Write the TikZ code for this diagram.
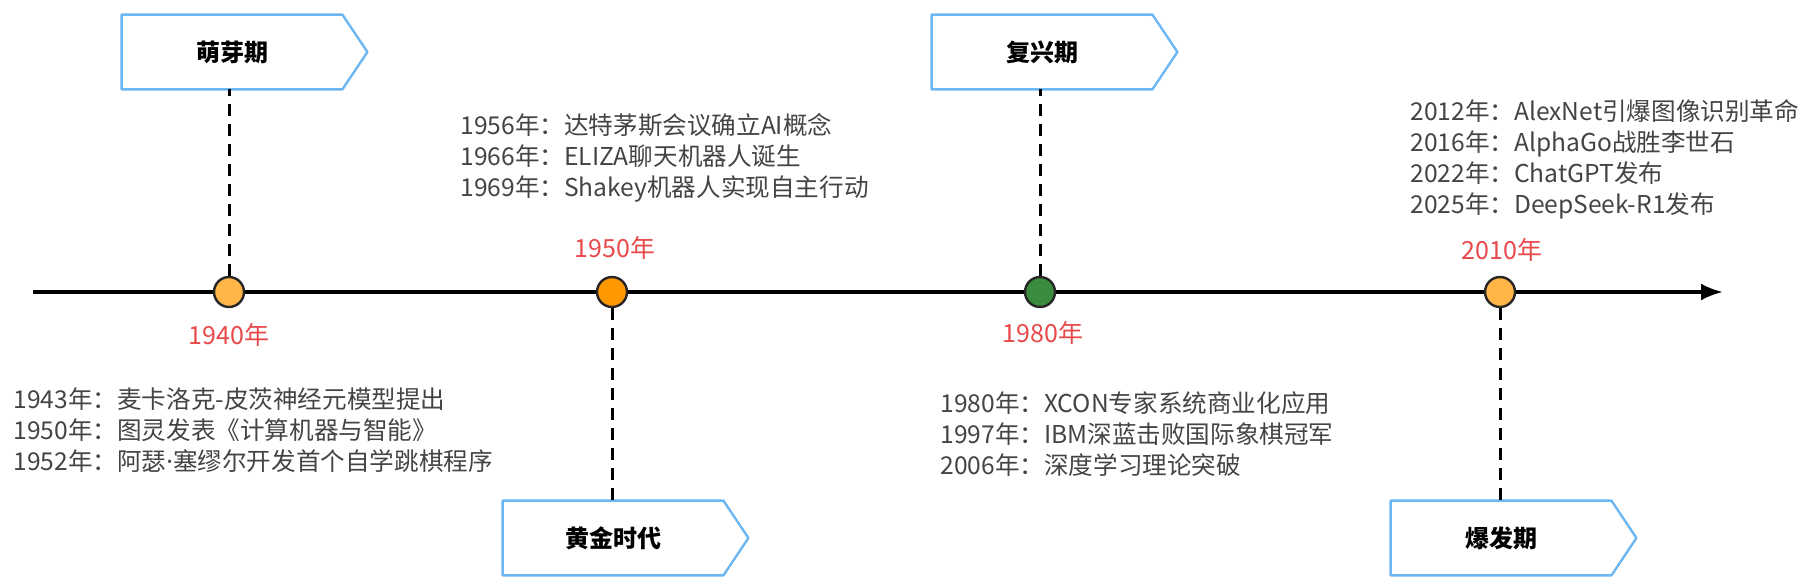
\documentclass[tikz,border=0pt]{standalone}
\usepackage{fontspec}
\newfontfamily\cjk{Noto Sans CJK SC}
\newfontfamily\latin{Noto Sans}
\usetikzlibrary{arrows.meta}

\definecolor{phaseblue}{HTML}{6CB6F2}
\definecolor{yearred}{HTML}{E8494B}
\definecolor{eventgray}{HTML}{444444}
\definecolor{dotlight}{HTML}{FFB547}
\definecolor{dotdark}{HTML}{FF9800}
\definecolor{dotgreen}{HTML}{3A8C3C}

\tikzset{
  phase/.style={minimum width=110pt, minimum height=37pt, inner sep=0pt,
    font=\cjk\bfseries\fontsize{12}{14}\selectfont},
  dot/.style={circle, draw=black!85, line width=1.2pt, minimum size=15pt, inner sep=0pt},
  year/.style={text=yearred, font=\cjk\fontsize{12.5}{14}\selectfont},
  events/.style={anchor=west, align=left, text=eventgray, inner sep=0pt,
    font=\cjk\fontsize{12.3}{15.5}\selectfont},
  link/.style={line width=1.5pt, dash pattern=on 6pt off 4pt},
}
% outline of a phase box, pointing right
\newcommand{\phaseframe}[1]{\draw[phaseblue, line width=1.2pt, line join=round]
  (#1.north west) -- (#1.north east) -- ([xshift=12.5pt]#1.east)
  -- (#1.south east) -- (#1.south west) -- cycle;}

\begin{document}
\begin{tikzpicture}[x=0.5pt,y=-0.5pt]
\useasboundingbox (0,0) rectangle (1818,588);

% time axis
\coordinate (start) at (33,292);
\coordinate (end) at (1723,292);
\draw[line width=1.8pt, -{Latex[length=11pt,width=8.5pt]}] (start) -- (end);

% phase boxes
\node[phase] (bud) at (232,52) {萌芽期};
\phaseframe{bud}
\node[phase] (gold) at (613,538) {黄金时代};
\phaseframe{gold}
\node[phase] (revival) at (1042,52) {复兴期};
\phaseframe{revival}
\node[phase] (boom) at (1501,538) {爆发期};
\phaseframe{boom}

% dots on the axis
\node[dot, fill=dotlight] (d1940) at (229,292) {};
\node[dot, fill=dotdark] (d1950) at (612,292) {};
\node[dot, fill=dotgreen] (d1980) at (1040,292) {};
\node[dot, fill=dotlight] (d2010) at (1500,292) {};

\draw[link] (d1940.north) -- (d1940 |- bud.south);
\draw[link] (d1950.south) -- (d1950 |- gold.north);
\draw[link] (d1980.north) -- (d1980 |- revival.south);
\draw[link] (d2010.south) -- (d2010 |- boom.north);

% years
\node[year] (y1940) at (229,335) {1940年};
\node[year] (y1950) at (615,248) {1950年};
\node[year] (y1980) at (1043,333) {1980年};
\node[year] (y2010) at (1502,250) {2010年};

% events
\node[events] (e1940) at (13,430) {1943年：麦卡洛克-皮茨神经元模型提出\\
  1950年：图灵发表《计算机器与智能》\\
  1952年：阿瑟{\latin ·}塞缪尔开发首个自学跳棋程序};
\node[events] (e1950) at (460,158) {1956年：达特茅斯会议确立AI概念\\
  1966年：ELIZA聊天机器人诞生\\
  1969年：Shakey机器人实现自主行动};
\node[events] (e1980) at (940,434) {1980年：XCON专家系统商业化应用\\
  1997年：IBM深蓝击败国际象棋冠军\\
  2006年：深度学习理论突破};
\node[events] (e2010) at (1410,159) {2012年：AlexNet引爆图像识别革命\\
  2016年：AlphaGo战胜李世石\\
  2022年：ChatGPT发布\\
  2025年：DeepSeek-R1发布};
\end{tikzpicture}
\end{document}
